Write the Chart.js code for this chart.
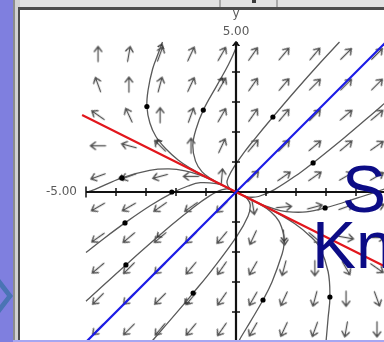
<!DOCTYPE html>
<html>
<head>
<meta charset="utf-8">
<script src="https://cdn.jsdelivr.net/npm/chart.js@4.4.1/dist/chart.umd.min.js"></script>
<style>
  html, body { margin: 0; padding: 0; }
  body { width: 384px; height: 342px; overflow: hidden; position: relative; background: #7f7fdf;
         font-family: "Liberation Sans", Arial, sans-serif; }
  .blk { position: absolute; }
  #frame  { left: 13px; top: 0; width: 371px; height: 340px; background: #d2d2d2; }
  #topbar { left: 20px; top: 0; width: 364px; height: 7px; background: #e2e2e2; }
  #sep1   { left: 219px; top: 0; width: 2px; height: 7px; background: #a9a9a9; }
  #sep2   { left: 276px; top: 0; width: 2px; height: 7px; background: #a9a9a9; }
  #knob   { left: 252px; top: 0; width: 4px; height: 3px; background: #3a3a3a; }
  #edgeL1 { left: 13px; top: 0; width: 2px; height: 340px; background: #8c8c8c; }
  #edgeL2 { left: 18px; top: 7px; width: 2px; height: 333px; background: #4c4c4c; }
  #edgeT  { left: 18px; top: 7px; width: 366px; height: 3px; background: #4c4c4c; }
  #panel  { left: 20px; top: 10px; width: 364px; height: 330px; background: #ffffff; }
  #bottom { left: 13px; top: 340px; width: 371px; height: 2px; background: #a6a6f2; }
  #chev   { left: 0; top: 276px; }
  canvas  { position: absolute; left: 20px; top: 10px; }
  .big { position: absolute; color: #0c0c86; font-family: "Liberation Sans", Arial, sans-serif;
         font-size: 66px; line-height: 66px; white-space: nowrap; }
</style>
</head>
<body>
<div class="blk" id="frame"></div>
<div class="blk" id="topbar"></div>
<div class="blk" id="sep1"></div>
<div class="blk" id="sep2"></div>
<div class="blk" id="knob"></div>
<div class="blk" id="edgeL1"></div>
<div class="blk" id="edgeL2"></div>
<div class="blk" id="edgeT"></div>
<div class="blk" id="panel"></div>
<div class="blk" id="bottom"></div>
<svg class="blk" id="chev" width="14" height="40" viewBox="0 0 14 40">
  <polygon points="0,3 13,20 0,37 0,29 7,20 0,11" fill="#4a74b4"/>
</svg>
<canvas id="phase" width="364" height="330"></canvas>
<div class="big" style="left:342px; top:156px;">S</div>
<div class="big" style="left:312px; top:212px;">Kn</div>

<script>
// ---- direction field: sample columns / rows and arrow headings (degrees, counter-clockwise from +x)
const fieldX = [-4.6, -3.57, -2.53, -1.5, -0.47, 0.57, 1.6, 2.63, 3.67, 4.7];
const fieldY = [4.6, 3.58, 2.56, 1.54, 0.52, -0.5, -1.52, -2.54, -3.56, -4.58];
const headingRow1  = [90, 80, 70, 65, 60, 55, 50, 50, 45, 45];
const headingRow2  = [110, 90, 75, 65, 60, 55, 50, 45, 45, 45];
const headingRow3  = [145, 115, 90, 70, 60, 55, 50, 45, 40, 40];
const headingRow4  = [180, 165, 135, 90, 65, 50, 45, 40, 40, 35];
const headingRow5  = [200, 200, 195, 180, 85, 45, 35, 35, 30, 30];
const headingRow6  = [210, 210, 215, 215, 225, 280, 5, 15, 20, 20];
const headingRow7  = [215, 220, 220, 225, 230, 245, 275, 320, 350, 0];
const headingRow8  = [220, 225, 225, 230, 235, 240, 255, 270, 300, 325];
const headingRow9  = [225, 225, 225, 230, 235, 240, 245, 255, 270, 290];
const headingRow10 = [225, 225, 230, 230, 235, 240, 245, 250, 260, 270];
const headingRows = [headingRow1, headingRow2, headingRow3, headingRow4, headingRow5,
                     headingRow6, headingRow7, headingRow8, headingRow9, headingRow10];

// ---- solution curves, as [x, y] samples
const curveUpperLeft  = [[0,0],[-0.5,0.25],[-1.0,0.5],[-1.5,0.78],[-1.93,1.07],[-2.35,1.45],[-2.67,1.85],
                         [-2.87,2.3],[-2.97,2.85],[-2.93,3.4],[-2.78,4.1],[-2.6,4.6],[-2.45,5.0]];
const curveUpperMid   = [[0,0],[-0.45,0.23],[-0.8,0.42],[-1.13,0.67],[-1.35,1.03],[-1.44,1.55],[-1.33,2.1],
                         [-1.09,2.73],[-0.62,3.58],[-0.25,4.25],[0.0,4.8],[0.05,5.0]];
const curveUpperRight = [[0,0],[-0.2,0.11],[-0.3,0.3],[-0.25,0.5],[-0.07,0.83],[0.27,1.32],[0.6,1.74],
                         [1.23,2.5],[2.0,3.4],[2.8,4.3],[3.45,5.0]];
const curveRightHigh  = [[0,0],[0.2,-0.1],[0.43,-0.17],[0.75,-0.15],[1.28,0.08],[2.16,0.66],[2.57,0.97],
                         [3.61,1.81],[4.62,2.67],[5.0,3.0]];
const curveRightLow   = [[0,0],[0.6,-0.3],[1.02,-0.48],[1.48,-0.62],[1.9,-0.67],[2.34,-0.66],[2.97,-0.53],
                         [3.58,-0.35],[4.2,-0.15],[4.95,0.1]];
const curveDownNear   = [[0,0],[0.45,-0.23],[0.79,-0.41],[1.15,-0.65],[1.43,-0.97],[1.585,-1.415],[1.6,-1.75],
                         [1.54,-2.06],[1.2,-3.0],[0.9,-3.6],[0.48,-4.32],[0.16,-4.85],[0.08,-5.0]];
const curveDownFar    = [[0,0],[1.0,-0.5],[1.95,-1.05],[2.5,-1.5],[2.8,-1.87],[3.07,-2.65],[3.13,-3.5],
                         [3.07,-4.2],[3.0,-5.0]];
const curveLowerMid   = [[0,0],[0.2,-0.1],[0.375,-0.225],[0.474,-0.426],[0.403,-0.797],[0.03,-1.47],
                         [-0.81,-2.61],[-1.43,-3.37],[-1.95,-3.99],[-2.73,-4.89],[-2.83,-5.0]];
const curveLeftHigh   = [[0,0],[-0.4,0.2],[-0.806,0.394],[-1.23,0.57],[-1.695,0.705],[-2.23,0.768],
                         [-2.88,0.72],[-3.8,0.47],[-4.72,0.08],[-4.9,0.02]];
const curveLeftMid    = [[0,0],[-0.4,0.195],[-0.625,0.275],[-1.19,0.31],[-1.6,0.2],[-2.135,-0.035],
                         [-2.85,-0.45],[-3.7,-1.03],[-4.39,-1.54],[-5.0,-2.02]];
const curveLeftLow    = [[0,0],[-0.21,0.09],[-0.35,0.1],[-0.556,0.044],[-0.88,-0.13],[-1.39,-0.49],
                         [-2.17,-1.12],[-3.67,-2.43],[-4.9,-3.55],[-5.0,-3.64]];

// starting points marked on the curves
const startX = [-2.97, -1.09, 1.23, 2.57, 2.97, 0.9, 3.13, -1.43, -3.8, -3.7, -2.14, -3.67];
const startY = [2.85, 2.73, 2.5, 0.97, -0.53, -3.6, -3.5, -3.37, 0.47, -1.03, 0.0, -2.43];

// flow arrows drawn on the curves
const flowX = [-2.47, -2.62, -0.45, -3.9, 1.6, -1.7, -2.63];
const flowY = [4.93, 1.75, 3.8, 0.45, -1.65, -3.72, -1.5];
const flowHeading = [72, 120, 62, 192, 268, 230, 220];

// straight-line solutions
const slowLineX = [-5.13, 5.0];
const slowLineY = [2.57, -2.5];
const fastLineX = [-5.0, 5.0];
const fastLineY = [-5.0, 5.0];

// axes
const xTicks = [-5, -4, -3, -2, -1, 1, 2, 3, 4, 5];
const yTicks = [-5, -4, -3, -2, -1, 1, 2, 3, 4];
const xRange = [-5, 5];
const yRange = [-5.2, 5];
const xEndLabel = '-5.00';
const yEndLabel = '5.00';
const yAxisName = 'y';

// ---- glyphs used as point styles
function makeArrow(len, head, color, lw) {
  const s = Math.ceil(len + 8);
  const c = document.createElement('canvas');
  c.width = s; c.height = s;
  const g = c.getContext('2d');
  g.strokeStyle = color; g.lineWidth = lw; g.lineCap = 'round'; g.lineJoin = 'round';
  const cx = s / 2, top = s / 2 - len / 2, bot = s / 2 + len / 2;
  g.beginPath();
  if (len > 0) { g.moveTo(cx, bot); g.lineTo(cx, top); }
  g.moveTo(cx - head * 0.75, top + head); g.lineTo(cx, top); g.lineTo(cx + head * 0.75, top + head);
  g.stroke();
  return c;
}
const fieldGlyph = makeArrow(15, 5, '#505050', 1.3);
const flowGlyph  = makeArrow(0, 5, '#3a3a3a', 1.4);
const axisGlyph  = makeArrow(0, 6, '#111111', 1.8);

const pts = (xs, ys) => xs.map((x, i) => ({ x, y: ys[i] }));
const pairs = arr => arr.map(p => ({ x: p[0], y: p[1] }));

const fieldPoints = [];
const fieldRot = [];
fieldY.forEach((y, i) => fieldX.forEach((x, j) => {
  fieldPoints.push({ x, y });
  fieldRot.push(90 - headingRows[i][j]);
}));

const curveList = [curveUpperLeft, curveUpperMid, curveUpperRight, curveRightHigh, curveRightLow,
                   curveDownNear, curveDownFar, curveLowerMid, curveLeftHigh, curveLeftMid, curveLeftLow];

const datasets = [];
// markers on top
datasets.push({ data: pts(startX, startY), pointStyle: 'circle', pointRadius: 2.6,
  pointBackgroundColor: '#000', pointBorderWidth: 0, showLine: false, order: 1 });
datasets.push({ data: pts(flowX, flowY), pointStyle: flowGlyph, pointRadius: 6,
  pointRotation: flowHeading.map(h => 90 - h), showLine: false, order: 2 });
datasets.push({ data: pts(fastLineX, fastLineY), showLine: true, borderColor: '#1b1be6', borderWidth: 2.2,
  pointRadius: 0, tension: 0, order: 3 });
datasets.push({ data: pts(slowLineX, slowLineY), showLine: true, borderColor: '#e2161c', borderWidth: 2.2,
  pointRadius: 0, tension: 0, order: 4 });
datasets.push({ data: [{ x: 0, y: yRange[1] }], pointStyle: axisGlyph, pointRadius: 6, pointRotation: 0,
  showLine: false, order: 5 });
datasets.push({ data: xTicks.map(v => ({ x: v, y: 0 })), pointStyle: 'line',
  pointRadius: xTicks.map(v => v === xRange[0] ? 5.5 : 4), pointRotation: 90,
  pointBorderColor: '#111', pointBorderWidth: 1.5, showLine: false, order: 6 });
datasets.push({ data: yTicks.map(v => ({ x: 0, y: v })), pointStyle: 'line', pointRadius: 4,
  pointRotation: 0, pointBorderColor: '#111', pointBorderWidth: 1.5, showLine: false, order: 7 });
datasets.push({ data: [{ x: xRange[0], y: 0 }, { x: xRange[1], y: 0 }], showLine: true,
  borderColor: '#111', borderWidth: 2, pointRadius: 0, order: 8 });
datasets.push({ data: [{ x: 0, y: yRange[0] }, { x: 0, y: yRange[1] }], showLine: true,
  borderColor: '#111', borderWidth: 2.2, pointRadius: 0, order: 9 });
curveList.forEach((c, k) => datasets.push({ data: pairs(c), showLine: true, borderColor: '#595959',
  borderWidth: 1.3, pointRadius: 0, tension: 0.4, order: 10 + k }));
datasets.push({ data: fieldPoints, pointStyle: fieldGlyph, pointRadius: 8, pointRotation: fieldRot,
  showLine: false, order: 50 });

// axis end labels
const axisText = {
  id: 'axisText',
  afterDatasetsDraw(chart) {
    const { ctx, scales: { x, y } } = chart;
    ctx.save();
    ctx.fillStyle = '#5a5a5a';
    ctx.font = '12px "DejaVu Sans", sans-serif';
    ctx.textAlign = 'right'; ctx.textBaseline = 'middle';
    ctx.fillText(xEndLabel, x.getPixelForValue(xRange[0]) - 9, y.getPixelForValue(0));
    ctx.textAlign = 'center'; ctx.textBaseline = 'alphabetic';
    ctx.fillText(yEndLabel, x.getPixelForValue(0), y.getPixelForValue(yRange[1]) - 7);
    ctx.fillText(yAxisName, x.getPixelForValue(0), y.getPixelForValue(yRange[1]) - 25);
    ctx.restore();
  }
};

new Chart(document.getElementById('phase'), {
  type: 'scatter',
  data: { datasets },
  options: {
    responsive: false,
    animation: false,
    events: [],
    layout: { padding: 0, autoPadding: false },
    plugins: { legend: { display: false }, tooltip: { enabled: false } },
    scales: {
      x: { type: 'linear', min: -7.2, max: 4.9333, display: false },
      y: { type: 'linear', min: -4.9333, max: 6.0667, display: false }
    }
  },
  plugins: [axisText]
});
</script>
</body>
</html>
